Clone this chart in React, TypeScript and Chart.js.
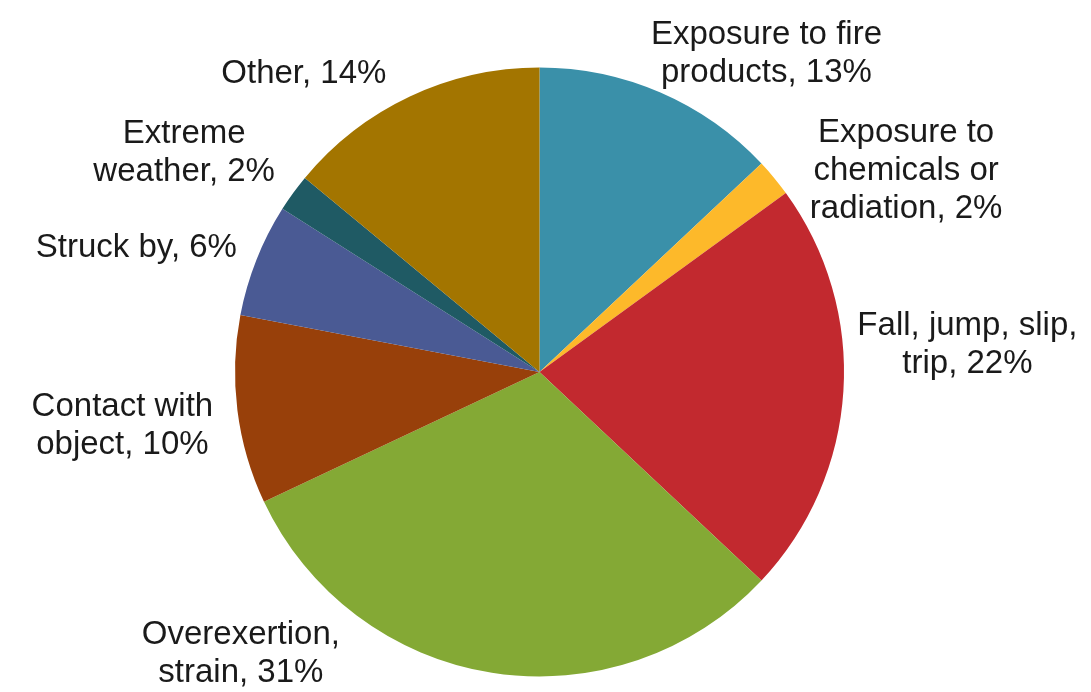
import React, { useEffect, useRef } from "react";
import { Chart, registerables } from "chart.js";

Chart.register(...registerables);

const categories: string[][] = [
  ["Exposure to fire", "products,"],
  ["Exposure to", "chemicals or", "radiation,"],
  ["Fall, jump, slip,", "trip,"],
  ["Overexertion,", "strain,"],
  ["Contact with", "object,"],
  ["Struck by,"],
  ["Extreme", "weather,"],
  ["Other,"],
];

const values: number[] = [13, 2, 22, 31, 10, 6, 2, 14];

const colors: string[] = [
  "#3A90A9",
  "#FDB92A",
  "#C2292F",
  "#84A935",
  "#98400A",
  "#4A5A94",
  "#1F5A64",
  "#A37500",
];

// label block centre offsets relative to the outer-edge point at each slice's mid-angle
const labelOffsets: [number, number][] = [
  [106, -39],
  [132, -7],
  [124, -46],
  [-251, -19],
  [-115, 16],
  [-120, -12],
  [-109, -40],
  [-106, -23],
];

const FONT = "33px 'Liberation Sans', Arial, sans-serif";
const LINE_HEIGHT = 38;

const labelPlugin = {
  id: "outsideLabels",
  afterDatasetsDraw(chart: any) {
    const meta = chart.getDatasetMeta(0);
    const ctx = chart.ctx as CanvasRenderingContext2D;
    ctx.save();
    ctx.font = FONT;
    ctx.fillStyle = "#1a1a1a";
    ctx.textAlign = "center";
    ctx.textBaseline = "middle";
    meta.data.forEach((arc: any, i: number) => {
      const p = arc.getProps(["x", "y", "startAngle", "endAngle", "outerRadius"], true);
      const mid = (p.startAngle + p.endAngle) / 2;
      const ax = p.x + Math.cos(mid) * p.outerRadius + labelOffsets[i][0];
      const ay = p.y + Math.sin(mid) * p.outerRadius + labelOffsets[i][1];
      const lines = categories[i].slice();
      lines[lines.length - 1] = `${lines[lines.length - 1]} ${values[i]}%`;
      const top = ay - ((lines.length - 1) * LINE_HEIGHT) / 2;
      lines.forEach((ln, k) => ctx.fillText(ln, ax, top + k * LINE_HEIGHT));
    });
    ctx.restore();
  },
};

export default function App() {
  const ref = useRef<HTMLCanvasElement | null>(null);
  useEffect(() => {
    if (!ref.current) return;
    const chart = new Chart(ref.current, {
      type: "pie",
      data: {
        labels: categories.map((c) => c.join(" ")),
        datasets: [
          {
            data: values,
            backgroundColor: colors,
            borderWidth: 0,
          },
        ],
      },
      options: {
        responsive: false,
        animation: false,
        layout: { padding: { left: 235, right: 247, top: 67, bottom: 15 } },
        plugins: {
          legend: { display: false },
          tooltip: { enabled: false },
        },
      },
      plugins: [labelPlugin],
    });
    return () => chart.destroy();
  }, []);
  return (
    <div style={{ position: "fixed", left: 0, top: 0, width: 1091, height: 692, background: "#fff" }}>
      <canvas ref={ref} width={1091} height={692} />
    </div>
  );
}
